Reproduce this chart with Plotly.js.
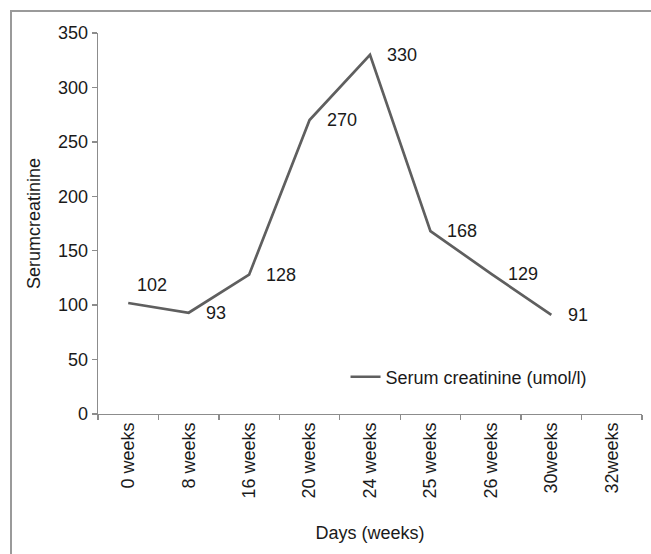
<!DOCTYPE html>
<html>
<head>
<meta charset="utf-8">
<script src="https://cdn.plot.ly/plotly-3.0.1.min.js"></script>
<style>
  html, body { margin: 0; padding: 0; background: #fff; }
  #wrap { position: relative; width: 651px; height: 554px; }
  #frame { position: absolute; left: 10px; top: 10px; width: 700px; height: 600px;
           border-top: 2px solid #9a9a9a; border-left: 2px solid #9a9a9a; box-sizing: border-box; }
  #chart { position: absolute; left: 0; top: 0; width: 651px; height: 554px; }
</style>
</head>
<body>
<div id="wrap">
  <div id="frame"></div>
  <div id="chart"></div>
</div>
<script>
const categories = ["0 weeks", "8 weeks", "16 weeks", "20 weeks", "24 weeks", "25 weeks", "26 weeks", "30weeks", "32weeks"];
const serumCreatinine = [102, 93, 128, 270, 330, 168, 129, 91, null];
const seriesName = "Serum creatinine (umol/l)";
const yTicks = [0, 50, 100, 150, 200, 250, 300, 350];

const font = "Liberation Sans, Arial, sans-serif";
const txt = "#1a1a1a";
const fs = 18;

const trace = {
  x: categories,
  y: serumCreatinine,
  type: "scatter",
  mode: "lines",
  name: seriesName,
  line: { color: "#5f5f5f", width: 2.7 },
  connectgaps: false,
  hoverinfo: "x+y"
};

const annotations = [];
categories.forEach((c, i) => {
  const v = serumCreatinine[i];
  if (v === null) return;
  const first = i === 0;
  annotations.push({
    x: c, y: v, xref: "x", yref: "y",
    text: String(v), showarrow: false,
    xanchor: "left", yanchor: "middle",
    xshift: first ? 7 : 15, yshift: first ? 18 : 0,
    font: { family: font, size: fs, color: txt }
  });
});

const layout = {
  width: 651, height: 554,
  margin: { l: 98, r: 9, t: 33, b: 140 },
  paper_bgcolor: "rgba(0,0,0,0)",
  plot_bgcolor: "rgba(0,0,0,0)",
  font: { family: font, size: fs, color: txt },
  showlegend: true,
  legend: {
    x: 0.455, y: 0.097, xanchor: "left", yanchor: "middle",
    bgcolor: "rgba(0,0,0,0)", font: { family: font, size: fs, color: txt },
    itemwidth: 30
  },
  xaxis: {
    type: "category",
    range: [-0.5, 8.5],
    showline: true, linecolor: "#8c8c8c", linewidth: 1.3,
    ticks: "outside", tickson: "boundaries", ticklen: 5, tickcolor: "#8c8c8c", tickwidth: 1.3,
    tickangle: -90,
    showgrid: false, zeroline: false,
    tickfont: { family: font, size: fs, color: txt },
    title: { text: "Days (weeks)", font: { family: font, size: fs, color: txt }, standoff: 29 }
  },
  yaxis: {
    range: [0, 350],
    tickvals: yTicks,
    showline: true, linecolor: "#8c8c8c", linewidth: 1.3,
    ticks: "outside", ticklen: 5, tickcolor: "#8c8c8c", tickwidth: 1.3,
    showgrid: false, zeroline: false,
    tickfont: { family: font, size: fs, color: txt },
    title: { text: "Serumcreatinine", font: { family: font, size: fs, color: txt }, standoff: 12 }
  },
  annotations: annotations
};

Plotly.newPlot("chart", [trace], layout, { displayModeBar: false, staticPlot: true });
</script>
</body>
</html>
